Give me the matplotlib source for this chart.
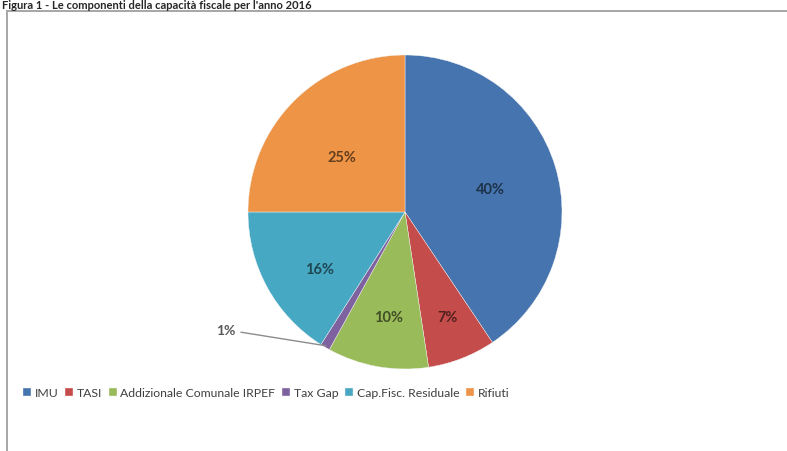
import numpy as np
import matplotlib.pyplot as plt
from matplotlib.patches import Rectangle
from matplotlib.colors import to_rgb

plt.rcParams['font.family'] = ['Lato', 'DejaVu Sans']

# dati del grafico
labels = ["IMU", "TASI", "Addizionale Comunale IRPEF", "Tax Gap",
          "Cap.Fisc. Residuale", "Rifiuti"]
values = [40.6, 7.0, 10.4, 1.0, 16.0, 25.0]
pct_text = ["40%", "7%", "10%", "1%", "16%", "25%"]
colors = ["#4674AE", "#C44C4A", "#9ABB5A", "#7E62A0", "#47A8C4", "#EE9446"]
title = "Figura 1 - Le componenti della capacità fiscale per l'anno 2016"

fig = plt.figure(figsize=(7.87, 4.52), dpi=100)

# cornice del grafico (tagliata a destra e in basso)
fig.patches.append(Rectangle((7/787, -0.1), 1.1, 1 - 12/452 + 0.1,
                             transform=fig.transFigure, fill=False,
                             edgecolor="#A6A6A6", linewidth=1.4))
fig.text(2/787, 1 - 9/452, title, fontsize=8, fontweight="bold",
         color="#262626", va="baseline")

ax = fig.add_axes([248/787, (452-213-157)/452, 314/787, 314/452])
wedges, _ = ax.pie(values, colors=colors, startangle=90, counterclock=False,
                   radius=1, wedgeprops=dict(linewidth=0.3, edgecolor="#f4f4f4"))
ax.set_xlim(-1, 1)
ax.set_ylim(-1, 1)
ax.set_aspect("equal")
ax.axis("off")

# posizione etichette: (distanza, correzione angolo)
lab_pos = [(0.56, -2), (0.72, 1), (0.68, 1), (None, 0), (0.655, 5), (0.53, 4)]
for w, t, c, (d, da) in zip(wedges, pct_text, colors, lab_pos):
    ang = np.deg2rad((w.theta1 + w.theta2) / 2 + da)
    if d is None:
        # etichetta esterna con linea guida
        ax.annotate(t, xy=(0.99 * np.cos(ang), 0.99 * np.sin(ang)),
                    xytext=(-1.08, -0.75), ha="right", va="center",
                    fontsize=10, fontweight="bold", color="#595959",
                    arrowprops=dict(arrowstyle="-", color="#8C8C8C", lw=1,
                                    shrinkA=2, shrinkB=0))
        continue
    dark = tuple(v * 0.42 for v in to_rgb(c))
    ax.text(d * np.cos(ang), d * np.sin(ang), t, ha="center", va="center",
            fontsize=10.5, fontweight="bold", color=dark)

fig.legend(wedges, labels, loc="center left", bbox_to_anchor=(23/787, 1 - 394/452),
           ncol=6, frameon=False, fontsize=8.8, handlelength=0.65, handleheight=0.65,
           handletextpad=0.3, columnspacing=0.55, labelcolor="#404040",
           borderaxespad=0, borderpad=0)

fig.savefig("out.png", dpi=100)
